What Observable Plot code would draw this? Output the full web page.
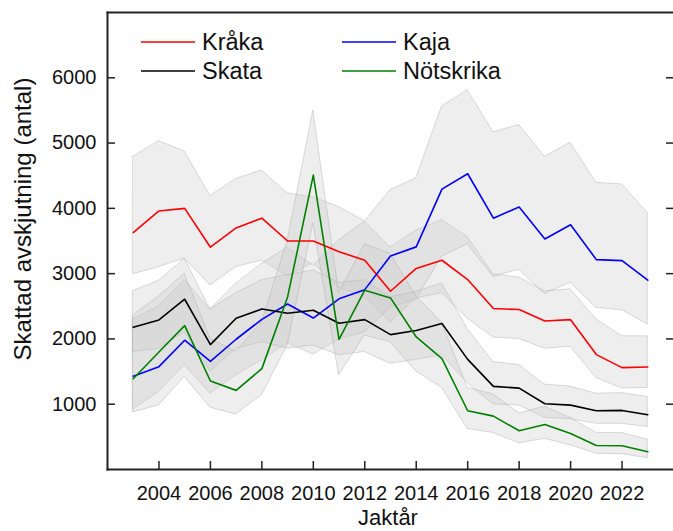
<!DOCTYPE html>
<html><head><meta charset="utf-8">
<script src="https://cdn.jsdelivr.net/npm/d3@7"></script>
<script src="https://cdn.jsdelivr.net/npm/@observablehq/plot@0.6"></script>
<style>body{margin:0;background:#fff;}#chart svg{display:block;}</style>
</head><body><div id="chart"></div>
<script>
const years = [2003,2004,2005,2006,2007,2008,2009,2010,2011,2012,2013,2014,2015,2016,2017,2018,2019,2020,2021,2022,2023];
const species = ["Kråka","Kaja","Skata","Nötskrika"];
const colors = ["#ff0000","#0000ff","#000000","#008000"];

const krakaVal = [3630,3960,4000,3405,3700,3850,3500,3500,3335,3205,2730,3080,3205,2910,2465,2450,2275,2295,1760,1560,1570];
const krakaLo  = [2990,3100,3230,2820,3100,3200,2960,3160,2780,2650,2250,2620,2700,2310,2020,2000,1850,1880,1400,1240,1250];
const krakaHi  = [4790,5030,4870,4190,4450,4580,4230,4170,4020,3800,3400,3660,3820,3560,2990,2940,2730,2760,2300,2040,2040];

const kajaVal = [1430,1575,1980,1655,1995,2300,2535,2320,2615,2755,3270,3410,4295,4530,3850,4020,3530,3750,3215,3200,2900];
const kajaLo  = [920,1186,1600,1161,1442,1672,1933,1760,1990,2100,2480,2600,3260,3450,2950,3060,2690,2860,2475,2440,2220];
const kajaHi  = [2300,2500,2900,2450,2850,3150,3400,3120,3510,3795,4280,4460,5560,5810,5165,5277,4790,5005,4392,4367,3930];

const skataVal = [2178,2290,2608,1912,2316,2459,2393,2439,2240,2296,2066,2128,2235,1687,1273,1247,1008,986,900,905,839];
const skataLo  = [1800,1850,2100,1500,1850,1950,1850,1900,1750,1800,1620,1680,1750,1320,997,980,790,770,700,700,650];
const skataHi  = [2735,2890,3230,2450,2700,2900,2980,3050,2860,2900,2640,2720,2850,2150,1646,1600,1300,1270,1160,1170,1110];

const notVal = [1391,1800,2204,1355,1212,1545,2643,4510,1994,2746,2628,2030,1698,900,818,593,690,552,368,363,271];
const notLo  = [874,982,1416,946,844,1135,1900,3770,1442,2050,1950,1500,1250,620,560,400,470,370,240,235,173];
const notHi  = [2360,2650,3000,2000,1800,2250,3500,5500,2700,3450,3300,2650,2250,1250,1150,860,960,790,560,560,455];

const xTicks = [2004,2006,2008,2010,2012,2014,2016,2018,2020,2022];
const yTicks = [1000,2000,3000,4000,5000,6000];

const series = [
  {name: species[0], val: krakaVal, lo: krakaLo, hi: krakaHi},
  {name: species[1], val: kajaVal, lo: kajaLo, hi: kajaHi},
  {name: species[2], val: skataVal, lo: skataLo, hi: skataHi},
  {name: species[3], val: notVal, lo: notLo, hi: notHi}
];
const rows = series.flatMap(s => years.map((y, i) => ({species: s.name, year: y, val: s.val[i], lo: s.lo[i], hi: s.hi[i]})));

const axisColor = "#222";
const chart = Plot.plot({
  width: 673, height: 531,
  marginLeft: 107, marginRight: 0, marginTop: 12, marginBottom: 62,
  style: {fontFamily: "'Liberation Sans', Arial, sans-serif", fontSize: "20px", background: "white", color: axisColor},
  x: {domain: [2002, 2024]},
  y: {domain: [0, 7000]},
  color: {domain: species, range: colors},
  marks: [
    ...species.map(s => Plot.areaY(rows, {filter: d => d.species === s, x: "year", y1: "lo", y2: "hi",
      fill: "#c6c6c6", fillOpacity: 0.3, stroke: "#a8a8a8", strokeOpacity: 0.4, strokeWidth: 1})),
    Plot.lineY(rows, {x: "year", y: "val", z: "species", stroke: "species", strokeWidth: 1.6}),
    Plot.axisX({ticks: xTicks, tickSize: -8, tickFormat: () => "", label: null, strokeWidth: 1.5}),
    Plot.axisX({ticks: xTicks, tickSize: 0, tickPadding: 16, tickFormat: d => String(d), label: null, fill: "#111"}),
    Plot.axisY({ticks: yTicks, tickSize: -8, tickFormat: () => "", label: null, strokeWidth: 1.5}),
    Plot.axisY({ticks: yTicks, tickSize: 0, tickPadding: 11, tickFormat: d => String(d), label: null, fill: "#111"}),
    Plot.axisY({anchor: "right", ticks: yTicks, tickSize: -8, tickFormat: () => "", label: null, strokeWidth: 1.5}),
    Plot.frame({anchor: "left", stroke: axisColor, strokeWidth: 2}),
    Plot.frame({anchor: "bottom", stroke: axisColor, strokeWidth: 2}),
    Plot.frame({anchor: "top", stroke: axisColor, strokeWidth: 2})
  ]
});
document.getElementById("chart").appendChild(chart);

const svg = d3.select(chart);
// axis titles
svg.append("text").attr("transform", "translate(22,219) rotate(-90)")
  .attr("text-anchor", "middle").attr("dominant-baseline", "central")
  .style("font-size", "24px").attr("fill", "#111").text("Skattad avskjutning (antal)");
svg.append("text").attr("x", 388).attr("y", 517)
  .attr("text-anchor", "middle").attr("dominant-baseline", "central")
  .style("font-size", "22px").attr("fill", "#111").text("Jaktår");
// legend
const legendPos = [[141, 42], [342, 42], [141, 71], [342, 71]];
species.forEach((s, i) => {
  const [lx, ly] = legendPos[i];
  svg.append("line").attr("x1", lx).attr("x2", lx + 54).attr("y1", ly).attr("y2", ly)
    .attr("stroke", colors[i]).attr("stroke-width", 1.6);
  svg.append("text").attr("x", lx + 61).attr("y", ly).attr("dominant-baseline", "central")
    .attr("text-anchor", "start")
    .style("font-size", "23.5px").attr("fill", "#111").text(s);
});
</script>
</body></html>
